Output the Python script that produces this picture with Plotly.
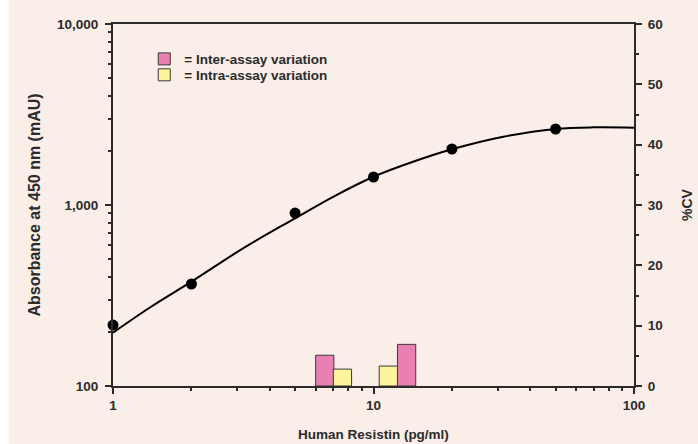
import numpy as np
import plotly.graph_objects as go

# ---- data ----
std_conc = [1, 2, 5, 10, 20, 50]
std_abs = [217, 366, 903, 1428, 2039, 2630]

curve_conc = [1, 1.4, 2, 3.2, 5, 7, 10, 14, 20, 31.5, 50, 70, 100]
curve_abs = [197, 274, 377, 583, 844, 1110, 1432, 1722, 2032, 2383, 2632, 2686, 2673]

inter_conc = [6.5, 13.4]
inter_cv = [5.1, 6.9]
intra_conc = [7.6, 11.4]
intra_cv = [2.8, 3.3]

x_tickvals = [1, 10, 100]
x_ticktext = ["1", "10", "100"]
y_tickvals = [100, 1000, 10000]
y_ticktext = ["100", "1,000", "10,000"]

# ---- style ----
BG = "#F9EEE8"
INK = "#2b2b2b"
FONT = "Liberation Sans, Arial, Helvetica, sans-serif"
PINK = "#EA80B2"
YELLOW = "#FDF59B"

fig = go.Figure()

fig.add_trace(go.Bar(
    x=np.log10(inter_conc), y=inter_cv, xaxis="x2", yaxis="y2",
    width=0.07, marker=dict(color=PINK, line=dict(color="#3a3a3a", width=1)),
    name="= Inter-assay variation", showlegend=True, legend="legend",
))
fig.add_trace(go.Bar(
    x=np.log10(intra_conc), y=intra_cv, xaxis="x2", yaxis="y2",
    width=0.07, marker=dict(color=YELLOW, line=dict(color="#3a3a3a", width=1)),
    name="= Intra-assay variation", showlegend=True, legend="legend2",
))
fig.add_trace(go.Scatter(
    x=curve_conc, y=curve_abs, mode="lines",
    line=dict(color="black", width=2, shape="spline", smoothing=1.0),
    showlegend=False, hoverinfo="skip",
))
fig.add_trace(go.Scatter(
    x=std_conc, y=std_abs, mode="markers", cliponaxis=False,
    marker=dict(color="black", size=11), showlegend=False,
))

tickfont = dict(family=FONT, size=13.5, color=INK, weight="bold")
legfont = dict(family=FONT, size=13.5, color=INK, weight="bold")

fig.update_layout(
    width=698, height=444,
    margin=dict(l=113, r=64, t=24, b=58, autoexpand=False),
    paper_bgcolor="white", plot_bgcolor=BG,
    barmode="overlay",
    shapes=[dict(type="rect", xref="paper", yref="paper", layer="below",
                 x0=-0.2, x1=1.2, y0=-0.3, y1=1.2, fillcolor=BG, line=dict(width=0))],
    xaxis=dict(
        type="log", range=[0, 2], tickvals=x_tickvals, ticktext=x_ticktext,
        ticks="outside", ticklen=6, tickwidth=2, tickcolor=INK,
        showline=True, linecolor=INK, linewidth=2, mirror=True,
        showgrid=False, zeroline=False, tickfont=tickfont,
        minor=dict(ticks="outside", ticklen=3, tickwidth=1.5, tickcolor=INK, dtick="D1", showgrid=False),
        title=dict(text="Human Resistin (pg/ml)", standoff=17,
                   font=dict(family=FONT, size=13.5, color=INK, weight="bold")),
    ),
    xaxis2=dict(overlaying="x", range=[0, 2], visible=False, anchor="y2"),
    yaxis=dict(
        type="log", range=[2, 4], tickvals=y_tickvals, ticktext=y_ticktext,
        ticks="outside", ticklen=6, tickwidth=2, tickcolor=INK,
        showline=True, linecolor=INK, linewidth=2, ticklabelstandoff=4,
        showgrid=False, zeroline=False, tickfont=tickfont,
        minor=dict(ticks="outside", ticklen=3, tickwidth=1.5, tickcolor=INK, dtick="D1", showgrid=False),
        title=dict(text="Absorbance at 450 nm (mAU)", standoff=12,
                   font=dict(family=FONT, size=16, color=INK, weight="bold")),
    ),
    yaxis2=dict(
        overlaying="y", side="right", anchor="x", range=[0, 60], dtick=10,
        ticks="outside", ticklen=6, tickwidth=2, tickcolor=INK,
        showline=True, linecolor=INK, linewidth=2, ticklabelstandoff=3,
        showgrid=False, zeroline=False, tickfont=tickfont,
        minor=dict(ticks="outside", ticklen=3, tickwidth=1.5, tickcolor=INK, dtick=5, showgrid=False),
        title=dict(text="%CV", standoff=20,
                   font=dict(family=FONT, size=14, color=INK, weight="bold")),
    ),
    legend=dict(
        x=0.06, y=0.903, xanchor="left", yanchor="middle",
        bgcolor="rgba(0,0,0,0)", borderwidth=0, font=legfont, itemwidth=30,
    ),
    legend2=dict(
        x=0.06, y=0.859, xanchor="left", yanchor="middle",
        bgcolor="rgba(0,0,0,0)", borderwidth=0, font=legfont, itemwidth=30,
    ),
)

fig.write_html("out.html", config={"displayModeBar": False},
               post_script="document.body.style.margin='0px';")
